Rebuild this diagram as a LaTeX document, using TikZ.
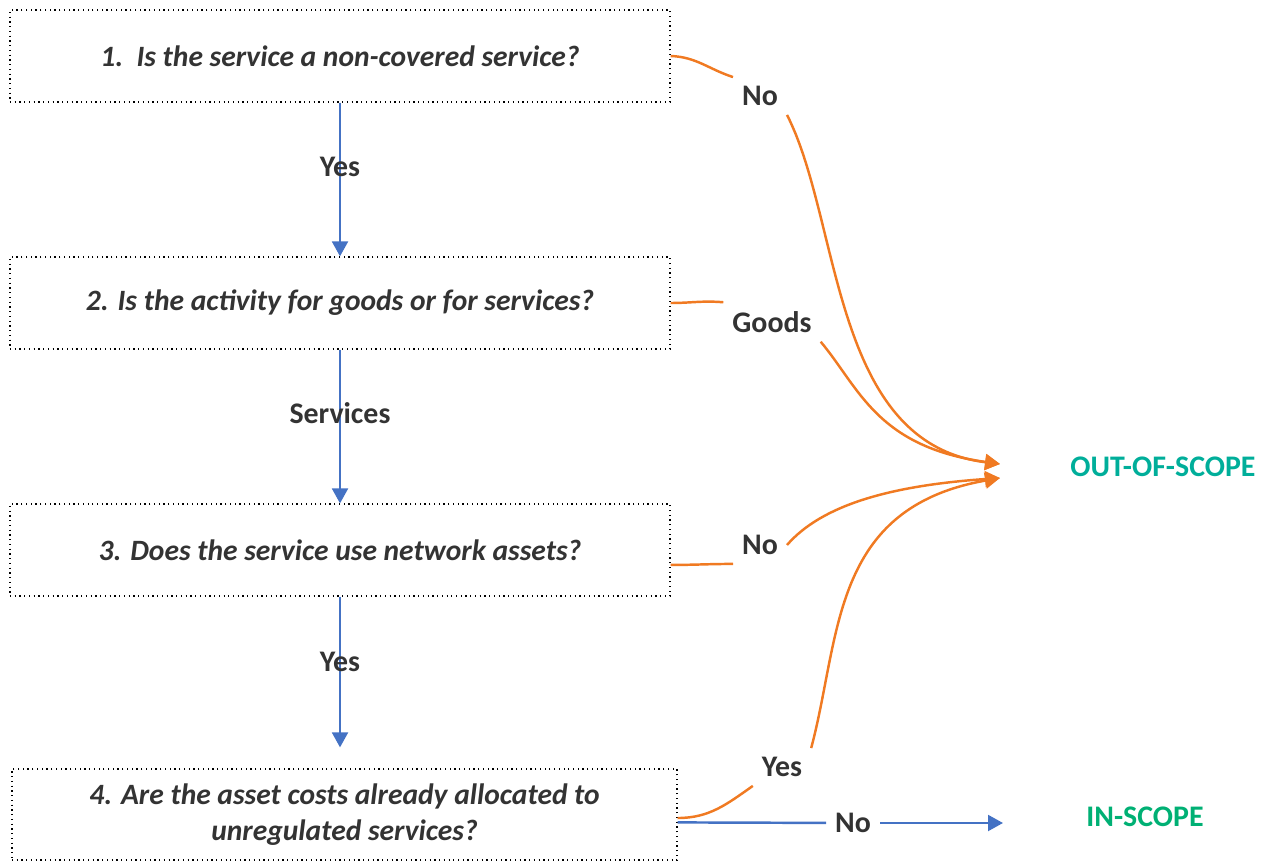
\documentclass[tikz,border=0pt]{standalone}
\usepackage{fontspec}
\setmainfont{Carlito}
\usetikzlibrary{arrows.meta}
\definecolor{txtgray}{RGB}{51,51,51}
\definecolor{arrorange}{RGB}{240,122,34}
\definecolor{arrblue}{RGB}{68,114,196}
\definecolor{outteal}{RGB}{0,174,154}
\definecolor{ingreen}{RGB}{0,176,116}

\begin{document}
\begin{tikzpicture}
    \def\dx{0.2cm}
    \def\dy{0.2cm}

    \tikzstyle{question}=[draw=black,dotted,line width=0.7pt,text=txtgray,minimum width=13.2cm,minimum height=1.84cm,align=center,font=\fontsize{16.8}{20.4}\selectfont\bfseries\itshape]
    \tikzstyle{answer}=[text=txtgray,inner sep=5pt,font=\fontsize{17}{20}\selectfont\bfseries]
    \tikzstyle{result}=[inner sep=0pt,font=\fontsize{17}{20}\selectfont\bfseries]

    \useasboundingbox (0,0) rectangle (126.6*\dx,-86.3*\dy);

    \node[question]  (q1) at (34*\dx,-5.6*\dy) {1.\ \ Is the service a non-covered service?};
    \node[question]  (q2) at (34*\dx,-30.3*\dy) {2. Is the activity for goods or for services?};
    \node[question]  (q3) at (34*\dx,-55*\dy) {3. Does the service use network assets?};
    \node[question,minimum width=13.3cm,minimum height=1.82cm]  (q4) at (34.45*\dx,-81.45*\dy) {4. Are the asset costs already allocated to\\unregulated services?};

    \node[result,text=outteal]  (oos) at (116.3*\dx,-46.7*\dy) {OUT-OF-SCOPE};
    \node[result,text=ingreen]  (ins) at (114.5*\dx,-81.7*\dy) {IN-SCOPE};

    \node[answer]  (no1) at (76*\dx,-9.6*\dy) {No};
    \node[answer]  (goods) at (77.2*\dx,-32.2*\dy) {Goods};
    \node[answer]  (no3) at (76*\dx,-54.5*\dy) {No};
    \node[answer]  (yes4) at (78.2*\dx,-76.7*\dy) {Yes};
    \node[answer]  (no4) at (85.3*\dx,-82.3*\dy) {No};

    \coordinate (oosa) at (100*\dx,-46.4*\dy);
    \coordinate (oosb) at (100*\dx,-47.8*\dy);
    \coordinate (insa) at (100.3*\dx,-82.3*\dy);

    \tikzstyle{yesflow} = [draw=arrblue, line width=1.4pt, -{Triangle[length=8.5pt,width=9pt]}]
    \tikzstyle{bline} = [draw=arrblue, line width=1.4pt]
    \tikzstyle{oline} = [draw=arrorange, line width=1.4pt]
    \tikzstyle{outflow} = [draw=arrorange, line width=1.4pt, -{Triangle[length=8.5pt,width=9pt]}]

          \draw [yesflow] (q1) -- node[answer,pos=0.42] {Yes} (q2);
          \draw [yesflow] (q2) -- node[answer,pos=0.41] {Services} (q3);
          \draw [yesflow,shorten >=0.42cm] (q3.south) -- node[answer,pos=0.38] {Yes} (q3.south |- q4.north);

          \draw [oline] (q1.east) to[out=-2,in=162] (no1.north west);
          \draw [outflow] (no1.south east) to[out=-63,in=173,out distance=2.4cm,in distance=3.4cm] (oosa);
          \draw [oline] (q2.east) to[out=0,in=175] (goods.north west);
          \draw [outflow] (goods.south east) to[out=-50,in=172,out distance=1.2cm,in distance=2.5cm] (oosa);
          \draw [oline] ([yshift=-8.5pt]q3.east) to[out=0,in=180] (no3.south west);
          \draw [outflow] (no3.east) to[out=49,in=184,out distance=1.06cm,in distance=2.2cm] (oosb);
          \draw [oline] ([yshift=-2pt]q4.east) to[out=0,in=-145] (yes4.south west);
          \draw [outflow] (yes4.north east) to[out=75,in=190,out distance=2.3cm,in distance=3.45cm] (oosb);

          \draw [bline] ([yshift=-4.5pt]q4.east) -- (no4);
          \draw [yesflow] (no4) -- (insa);
\end{tikzpicture}
\end{document}
